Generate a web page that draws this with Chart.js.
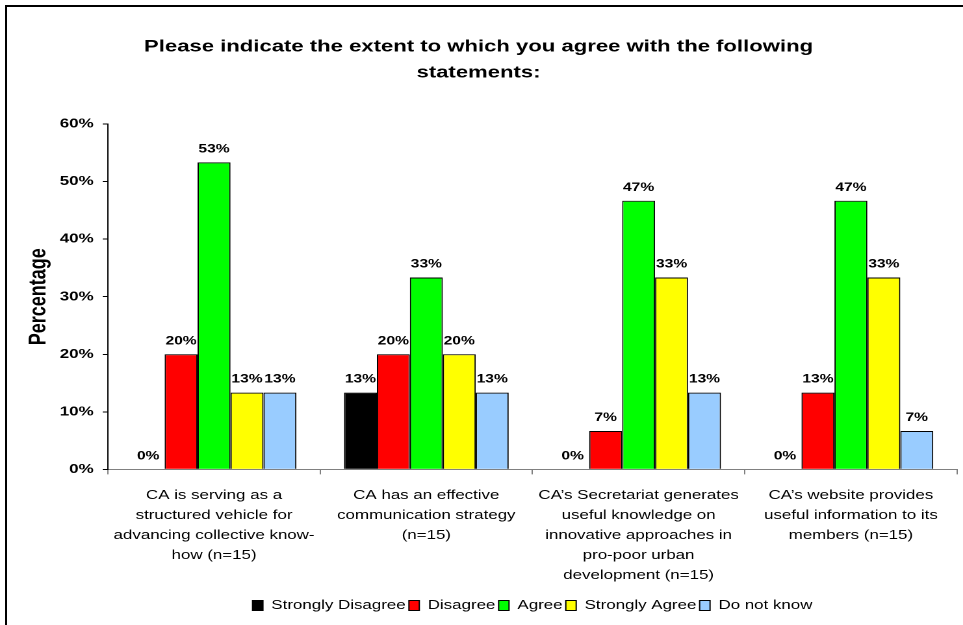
<!DOCTYPE html>
<html>
<head>
<meta charset="utf-8">
<script src="https://cdn.jsdelivr.net/npm/chart.js@4.4.1/dist/chart.umd.min.js"></script>
<style>
  body { margin: 0; background: #fff; overflow: hidden; }
  #wrap { position: relative; width: 963px; height: 625px; overflow: hidden; }
  /* the original picture is stretched sideways, so draw narrow and widen */
  #stretch { position: absolute; left: 0; top: 0; width: 741px; height: 625px;
             transform: scaleX(1.2996); transform-origin: 0 0; }
  #frame { position: absolute; left: 5px; top: 5px; width: 1000px; height: 700px;
           border: 2px solid #000; pointer-events: none; }
</style>
</head>
<body>
<div id="wrap">
  <div id="stretch"><canvas id="chart" width="741" height="625"></canvas></div>
  <div id="frame"></div>
</div>
<script>
// statements on the x axis (already broken into lines as in the original)
var statements = [
  ["CA is serving as a", "structured vehicle for", "advancing collective know-", "how (n=15)"],
  ["CA has an effective", "communication strategy", "(n=15)"],
  ["CA\u2019s Secretariat generates", "useful knowledge on", "innovative approaches in", "pro-poor urban", "development (n=15)"],
  ["CA\u2019s website provides", "useful information to its", "members (n=15)"]
];

// percent of respondents, n=15 each
var stronglyDisagree = [0, 13.33, 0, 0];
var disagree         = [20, 20, 6.67, 13.33];
var agree            = [53.33, 33.33, 46.67, 46.67];
var stronglyAgree    = [13.33, 20, 33.33, 33.33];
var doNotKnow        = [13.33, 13.33, 13.33, 6.67];

var yTicks = [0, 10, 20, 30, 40, 50, 60];

var FONT = "'Liberation Sans', Arial, sans-serif";

// bold % labels above every bar
var valueLabels = {
  id: "valueLabels",
  afterDatasetsDraw: function(chart) {
    var ctx = chart.ctx;
    ctx.save();
    ctx.font = "bold 12px " + FONT;
    ctx.fillStyle = "#000";
    ctx.textAlign = "center";
    ctx.textBaseline = "alphabetic";
    chart.data.datasets.forEach(function(ds, i) {
      chart.getDatasetMeta(i).data.forEach(function(bar, j) {
        ctx.fillText(Math.round(ds.data[j]) + "%", bar.x, bar.y - 10);
      });
    });
    ctx.restore();
  }
};

function series(label, values, color) {
  return {
    label: label,
    data: values,
    backgroundColor: color,
    borderColor: "#000",
    borderWidth: 1,
    borderSkipped: "bottom",
    categoryPercentage: 0.776,
    barPercentage: 1.0
  };
}

new Chart(document.getElementById("chart").getContext("2d"), {
  type: "bar",
  data: {
    labels: statements,
    datasets: [
      series("Strongly Disagree", stronglyDisagree, "#000000"),
      series("Disagree", disagree, "#FF0000"),
      series("Agree", agree, "#00FF00"),
      series("Strongly Agree", stronglyAgree, "#FFFF00"),
      series("Do not know", doNotKnow, "#99CCFF")
    ]
  },
  options: {
    responsive: false,
    animation: false,
    devicePixelRatio: 2,
    layout: { padding: { left: 0, right: 4.6, top: 0, bottom: 3 } },
    plugins: {
      title: {
        display: true,
        text: ["Please indicate the extent to which you agree with the following", "statements:"],
        color: "#000",
        font: { family: FONT, size: 17, weight: "bold", lineHeight: 1.53 },
        padding: { top: 34, bottom: 38 }
      },
      legend: {
        position: "bottom",
        fullSize: false,
        labels: {
          color: "#000",
          font: { family: FONT, size: 13 },
          boxWidth: 8,
          boxHeight: 10,
          padding: 2.5,
          generateLabels: function(chart) {
            return chart.data.datasets.map(function(ds, i) {
              return {
                text: ds.label,
                fillStyle: ds.backgroundColor,
                strokeStyle: "#000",
                lineWidth: 1,
                datasetIndex: i
              };
            });
          }
        }
      },
      tooltip: { enabled: false }
    },
    scales: {
      x: {
        grid: { display: true, drawOnChartArea: false, drawTicks: true, tickLength: 5, offset: true, color: "#808080" },
        border: { color: "#808080", width: 1 },
        ticks: {
          color: "#000",
          font: { family: FONT, size: 13, lineHeight: 1.54 },
          maxRotation: 0,
          autoSkip: false,
          padding: 11
        }
      },
      y: {
        min: 0,
        max: 60,
        afterBuildTicks: function(axis) {
          axis.ticks = yTicks.map(function(v) { return { value: v }; });
        },
        grid: { display: true, drawOnChartArea: false, drawTicks: true, tickLength: 4, color: "#000" },
        border: { color: "#000", width: 1 },
        ticks: {
          color: "#000",
          font: { family: FONT, size: 13, weight: "bold" },
          padding: 7,
          callback: function(v) { return v + "%"; }
        },
        title: {
          display: true,
          text: "Percentage",
          color: "#000",
          font: { family: FONT, size: 18, weight: "bold", lineHeight: 1.0 },
          padding: { top: 21, bottom: 0 }
        }
      }
    }
  },
  plugins: [valueLabels]
});
</script>
</body>
</html>
